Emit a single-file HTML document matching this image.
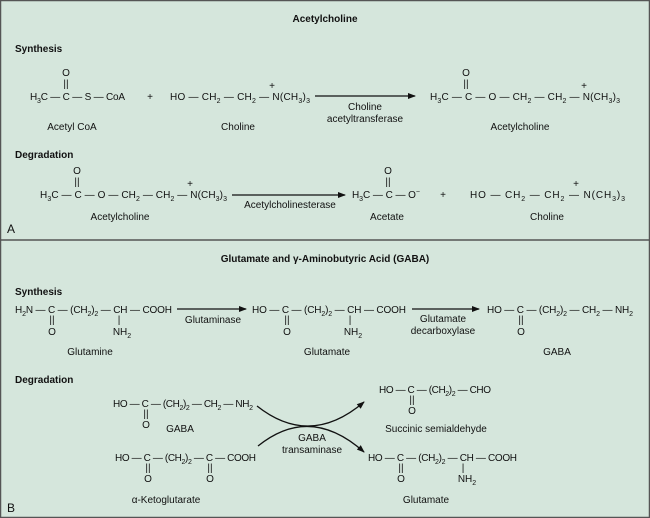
<!DOCTYPE html>
<html><head><meta charset="utf-8"><style>
html,body{margin:0;padding:0;background:#d5e6dc}
svg{display:block}
text{font-family:"Liberation Sans",Arial,sans-serif;font-size:10px;fill:#111}
.b{font-weight:bold}
.s{font-size:7px}
</style></head><body>
<svg width="650" height="518" viewBox="0 0 650 518" xmlns="http://www.w3.org/2000/svg">
<defs><marker id="ah" markerWidth="8" markerHeight="6" refX="7" refY="3" orient="auto" markerUnits="userSpaceOnUse"><path d="M0,0 L8,3 L0,6 z" fill="#111"/></marker></defs>
<rect x="0.5" y="0.5" width="649" height="517" fill="#d5e6dc" stroke="#555" stroke-width="1.5"/>
<line x1="0" y1="240" x2="650" y2="240" stroke="#555" stroke-width="1.5"/>

<text class="b" x="325" y="22" text-anchor="middle">Acetylcholine</text>
<text class="b" x="15" y="52">Synthesis</text>
<text x="66" y="76" text-anchor="middle">O</text><text x="66" y="87" text-anchor="middle">||</text>
<text x="30" y="100" textLength="95" lengthAdjust="spacing">H<tspan class="s" dy="3">3</tspan><tspan dy="-3">C — C — S — CoA</tspan></text>
<text x="150" y="100" text-anchor="middle">+</text>
<text x="272" y="89" text-anchor="middle">+</text>
<text x="170" y="100" textLength="140" lengthAdjust="spacing">HO — CH<tspan class="s" dy="3">2</tspan><tspan dy="-3"> — CH</tspan><tspan class="s" dy="3">2</tspan><tspan dy="-3"> — N(CH</tspan><tspan class="s" dy="3">3</tspan><tspan dy="-3">)</tspan><tspan class="s" dy="3">3</tspan></text>
<line x1="315" y1="96" x2="415" y2="96" stroke="#111" stroke-width="1.2" marker-end="url(#ah)"/>
<text x="365" y="110" text-anchor="middle">Choline</text>
<text x="365" y="122" text-anchor="middle">acetyltransferase</text>
<text x="466" y="76" text-anchor="middle">O</text><text x="466" y="87" text-anchor="middle">||</text>
<text x="430" y="100" textLength="190" lengthAdjust="spacing">H<tspan class="s" dy="3">3</tspan><tspan dy="-3">C — C — O — CH</tspan><tspan class="s" dy="3">2</tspan><tspan dy="-3"> — CH</tspan><tspan class="s" dy="3">2</tspan><tspan dy="-3"> — N(CH</tspan><tspan class="s" dy="3">3</tspan><tspan dy="-3">)</tspan><tspan class="s" dy="3">3</tspan></text>
<text x="584" y="89" text-anchor="middle">+</text>
<text x="72" y="130" text-anchor="middle">Acetyl CoA</text>
<text x="238" y="130" text-anchor="middle">Choline</text>
<text x="520" y="130" text-anchor="middle">Acetylcholine</text>

<text class="b" x="15" y="158">Degradation</text>
<text x="77" y="174" text-anchor="middle">O</text><text x="77" y="185" text-anchor="middle">||</text>
<text x="40" y="198" textLength="187" lengthAdjust="spacing">H<tspan class="s" dy="3">3</tspan><tspan dy="-3">C — C — O — CH</tspan><tspan class="s" dy="3">2</tspan><tspan dy="-3"> — CH</tspan><tspan class="s" dy="3">2</tspan><tspan dy="-3"> — N(CH</tspan><tspan class="s" dy="3">3</tspan><tspan dy="-3">)</tspan><tspan class="s" dy="3">3</tspan></text>
<text x="190" y="187" text-anchor="middle">+</text>
<line x1="232" y1="195" x2="345" y2="195" stroke="#111" stroke-width="1.2" marker-end="url(#ah)"/>
<text x="290" y="208" text-anchor="middle">Acetylcholinesterase</text>
<text x="388" y="174" text-anchor="middle">O</text><text x="388" y="185" text-anchor="middle">||</text>
<text x="352" y="198" textLength="68" lengthAdjust="spacing">H<tspan class="s" dy="3">3</tspan><tspan dy="-3">C — C — O</tspan><tspan class="s" dy="-4">−</tspan></text>
<text x="443" y="198" text-anchor="middle">+</text>
<text x="470" y="198" textLength="155" lengthAdjust="spacing">HO — CH<tspan class="s" dy="3">2</tspan><tspan dy="-3"> — CH</tspan><tspan class="s" dy="3">2</tspan><tspan dy="-3"> — N(CH</tspan><tspan class="s" dy="3">3</tspan><tspan dy="-3">)</tspan><tspan class="s" dy="3">3</tspan></text>
<text x="576" y="187" text-anchor="middle">+</text>
<text x="120" y="220" text-anchor="middle">Acetylcholine</text>
<text x="387" y="220" text-anchor="middle">Acetate</text>
<text x="547" y="220" text-anchor="middle">Choline</text>
<text x="7" y="233" style="font-size:12px">A</text>

<text class="b" x="325" y="262" text-anchor="middle">Glutamate and γ-Aminobutyric Acid (GABA)</text>
<text class="b" x="15" y="295">Synthesis</text>
<text x="15" y="313" textLength="157" lengthAdjust="spacing">H<tspan class="s" dy="3">2</tspan><tspan dy="-3">N — C — (CH</tspan><tspan class="s" dy="3">2</tspan><tspan dy="-3">)</tspan><tspan class="s" dy="3">2</tspan><tspan dy="-3"> — CH — COOH</tspan></text>
<text x="52" y="323" text-anchor="middle">||</text><text x="52" y="335" text-anchor="middle">O</text>
<text x="119" y="323" text-anchor="middle">|</text><text x="122" y="335" text-anchor="middle">NH<tspan class="s" dy="3">2</tspan></text>
<line x1="177" y1="309" x2="246" y2="309" stroke="#111" stroke-width="1.2" marker-end="url(#ah)"/>
<text x="213" y="323" text-anchor="middle">Glutaminase</text>
<text x="252" y="313" textLength="154" lengthAdjust="spacing">HO — C — (CH<tspan class="s" dy="3">2</tspan><tspan dy="-3">)</tspan><tspan class="s" dy="3">2</tspan><tspan dy="-3"> — CH — COOH</tspan></text>
<text x="287" y="323" text-anchor="middle">||</text><text x="287" y="335" text-anchor="middle">O</text>
<text x="350" y="323" text-anchor="middle">|</text><text x="353" y="335" text-anchor="middle">NH<tspan class="s" dy="3">2</tspan></text>
<line x1="412" y1="309" x2="479" y2="309" stroke="#111" stroke-width="1.2" marker-end="url(#ah)"/>
<text x="443" y="322" text-anchor="middle">Glutamate</text>
<text x="443" y="334" text-anchor="middle">decarboxylase</text>
<text x="487" y="313" textLength="146" lengthAdjust="spacing">HO — C — (CH<tspan class="s" dy="3">2</tspan><tspan dy="-3">)</tspan><tspan class="s" dy="3">2</tspan><tspan dy="-3"> — CH</tspan><tspan class="s" dy="3">2</tspan><tspan dy="-3"> — NH</tspan><tspan class="s" dy="3">2</tspan></text>
<text x="521" y="323" text-anchor="middle">||</text><text x="521" y="335" text-anchor="middle">O</text>
<text x="90" y="355" text-anchor="middle">Glutamine</text>
<text x="327" y="355" text-anchor="middle">Glutamate</text>
<text x="557" y="355" text-anchor="middle">GABA</text>

<text class="b" x="15" y="383">Degradation</text>
<text x="113" y="407" textLength="140" lengthAdjust="spacing">HO — C — (CH<tspan class="s" dy="3">2</tspan><tspan dy="-3">)</tspan><tspan class="s" dy="3">2</tspan><tspan dy="-3"> — CH</tspan><tspan class="s" dy="3">2</tspan><tspan dy="-3"> — NH</tspan><tspan class="s" dy="3">2</tspan></text>
<text x="146" y="417" text-anchor="middle">||</text><text x="146" y="428" text-anchor="middle">O</text>
<text x="180" y="432" text-anchor="middle">GABA</text>
<text x="115" y="461" textLength="141" lengthAdjust="spacing">HO — C — (CH<tspan class="s" dy="3">2</tspan><tspan dy="-3">)</tspan><tspan class="s" dy="3">2</tspan><tspan dy="-3"> — C — COOH</tspan></text>
<text x="148" y="471" text-anchor="middle">||</text><text x="148" y="482" text-anchor="middle">O</text>
<text x="210" y="471" text-anchor="middle">||</text><text x="210" y="482" text-anchor="middle">O</text>
<text x="166" y="503" text-anchor="middle">α-Ketoglutarate</text>
<path d="M257,406 Q310,448 364,402" fill="none" stroke="#111" stroke-width="1.3" marker-end="url(#ah)"/>
<path d="M258,446 Q310,404 364,452" fill="none" stroke="#111" stroke-width="1.3" marker-end="url(#ah)"/>
<text x="312" y="441" text-anchor="middle">GABA</text>
<text x="312" y="453" text-anchor="middle">transaminase</text>
<text x="379" y="393" textLength="112" lengthAdjust="spacing">HO — C — (CH<tspan class="s" dy="3">2</tspan><tspan dy="-3">)</tspan><tspan class="s" dy="3">2</tspan><tspan dy="-3"> — CHO</tspan></text>
<text x="412" y="403" text-anchor="middle">||</text><text x="412" y="414" text-anchor="middle">O</text>
<text x="436" y="432" text-anchor="middle">Succinic semialdehyde</text>
<text x="368" y="461" textLength="149" lengthAdjust="spacing">HO — C — (CH<tspan class="s" dy="3">2</tspan><tspan dy="-3">)</tspan><tspan class="s" dy="3">2</tspan><tspan dy="-3"> — CH — COOH</tspan></text>
<text x="401" y="471" text-anchor="middle">||</text><text x="401" y="482" text-anchor="middle">O</text>
<text x="463" y="471" text-anchor="middle">|</text><text x="467" y="482" text-anchor="middle">NH<tspan class="s" dy="3">2</tspan></text>
<text x="426" y="503" text-anchor="middle">Glutamate</text>
<text x="7" y="512" style="font-size:12px">B</text>
</svg>
</body></html>
